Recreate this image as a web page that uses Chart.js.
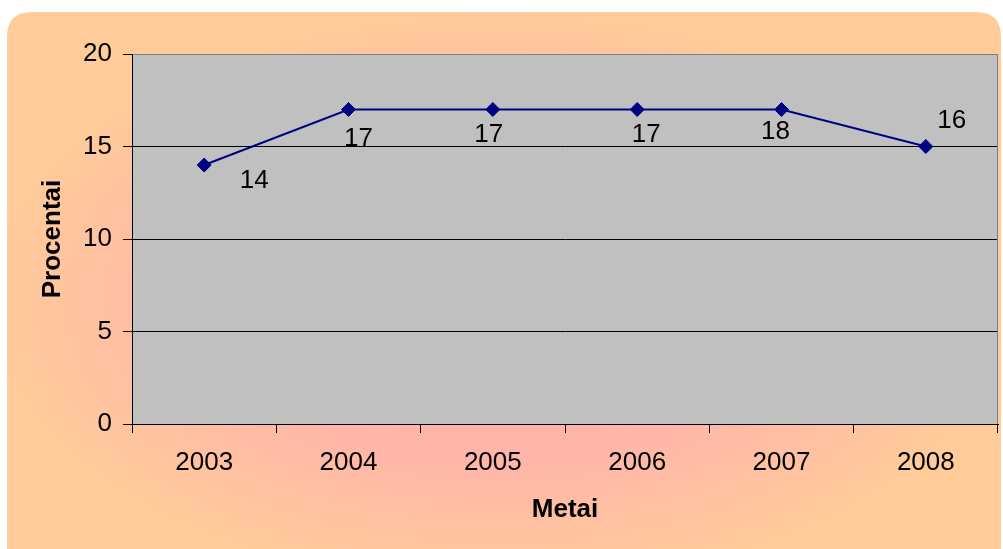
<!DOCTYPE html>
<html>
<head>
<meta charset="utf-8">
<script src="https://cdn.jsdelivr.net/npm/chart.js@4/dist/chart.umd.min.js"></script>
<style>
  html, body { margin: 0; padding: 0; background: #ffffff; }
  #wrap { width: 1003px; height: 549px; position: relative; }
</style>
</head>
<body>
<div id="wrap"><canvas id="c" width="1003" height="549"></canvas></div>
<script>
const years = ['2003', '2004', '2005', '2006', '2007', '2008'];
const values = [14, 17, 17, 17, 17, 15];
const valueLabels = ['14', '17', '17', '17', '18', '16'];
const yTicks = [0, 5, 10, 15, 20];
const xTitle = 'Metai';
const yTitle = 'Procentai';

const FONT = '"Liberation Sans", Arial, sans-serif';
const FS = 26;

const backgroundPlugin = {
  id: 'bg',
  beforeDraw(chart) {
    const ctx = chart.ctx;
    const x = 7, y = 12, w = 994, h = 560, r = 25;
    ctx.save();
    ctx.translate(500, 300);
    ctx.scale(1, 0.56);
    const g = ctx.createRadialGradient(0, 0, 0, 0, 0, 520);
    g.addColorStop(0, '#ffa8b0');
    g.addColorStop(0.55, '#ffb6a9');
    g.addColorStop(1, '#ffcc99');
    ctx.fillStyle = g;
    ctx.beginPath();
    const tx = (px) => px - 500, ty = (py) => (py - 300) / 0.56;
    ctx.moveTo(tx(x + r), ty(y));
    ctx.lineTo(tx(x + w - r), ty(y));
    ctx.quadraticCurveTo(tx(x + w), ty(y), tx(x + w), ty(y + r));
    ctx.lineTo(tx(x + w), ty(y + h - r));
    ctx.quadraticCurveTo(tx(x + w), ty(y + h), tx(x + w - r), ty(y + h));
    ctx.lineTo(tx(x + r), ty(y + h));
    ctx.quadraticCurveTo(tx(x), ty(y + h), tx(x), ty(y + h - r));
    ctx.lineTo(tx(x), ty(y + r));
    ctx.quadraticCurveTo(tx(x), ty(y), tx(x + r), ty(y));
    ctx.closePath();
    ctx.fill();
    ctx.restore();
    const a = chart.chartArea;
    ctx.save();
    ctx.fillStyle = '#c0c0c0';
    ctx.fillRect(a.left, a.top, a.right - a.left, a.bottom - a.top);
    ctx.restore();
  },
  afterDraw(chart) {
    const a = chart.chartArea;
    const ctx = chart.ctx;
    ctx.save();
    ctx.strokeStyle = '#808080';
    ctx.lineWidth = 1;
    ctx.beginPath();
    ctx.moveTo(a.right - 0.5, a.top);
    ctx.lineTo(a.right - 0.5, a.bottom);
    ctx.stroke();
    ctx.restore();
  }
};

const labelPlugin = {
  id: 'valueLabels',
  afterDatasetsDraw(chart, args, opts) {
    const ctx = chart.ctx;
    const meta = chart.getDatasetMeta(0);
    ctx.save();
    ctx.font = FS + 'px ' + FONT;
    ctx.fillStyle = '#000000';
    ctx.textAlign = 'center';
    ctx.textBaseline = 'middle';
    meta.data.forEach((pt, i) => {
      const off = opts.offsets[i];
      ctx.fillText(valueLabels[i], pt.x + off[0], pt.y + off[1]);
    });
    ctx.restore();
  }
};

new Chart(document.getElementById('c'), {
  type: 'line',
  data: {
    labels: years,
    datasets: [{
      data: values,
      borderColor: '#000080',
      borderWidth: 2,
      backgroundColor: '#000080',
      pointStyle: 'rectRot',
      pointRadius: 7,
      pointHoverRadius: 7,
      pointBorderWidth: 1,
      pointBackgroundColor: '#000080',
      pointBorderColor: '#000080',
      tension: 0,
      fill: false
    }]
  },
  plugins: [backgroundPlugin, labelPlugin],
  options: {
    responsive: false,
    animation: false,
    devicePixelRatio: 1,
    layout: { autoPadding: false, padding: { top: 54, right: 5, left: 0, bottom: 0 } },
    plugins: {
      legend: { display: false },
      tooltip: { enabled: false },
      valueLabels: {
        offsets: [[50, 16], [10, 29], [-4, 25], [9, 25], [-6, 22], [26, -26]]
      }
    },
    scales: {
      x: {
        type: 'category',
        offset: true,
        afterFit(scale) { scale.height = 125; },
        grid: {
          offset: true,
          drawOnChartArea: false,
          drawTicks: true,
          tickLength: 9,
          tickColor: '#000000',
          tickWidth: 1
        },
        border: { display: true, color: '#000000', width: 1 },
        ticks: {
          color: '#000000',
          font: { family: FONT, size: FS },
          padding: 14,
          maxRotation: 0,
          autoSkip: false
        },
        title: {
          display: true,
          text: xTitle,
          color: '#000000',
          font: { family: FONT, size: FS, weight: 'bold' },
          padding: { top: 0, bottom: 24 }
        }
      },
      y: {
        min: 0,
        max: 20,
        afterFit(scale) { scale.width = 132; },
        afterBuildTicks(scale) { scale.ticks = yTicks.map(v => ({ value: v })); },
        grid: {
          color: (c) => (c.tick && c.tick.value === 20) ? '#808080' : '#000000',
          lineWidth: 1,
          drawTicks: true,
          tickLength: 9,
          tickColor: '#000000'
        },
        border: { display: true, color: '#000000', width: 1 },
        ticks: {
          color: '#000000',
          font: { family: FONT, size: FS },
          padding: 11
        },
        title: {
          display: true,
          text: yTitle,
          color: '#000000',
          font: { family: FONT, size: FS, weight: 'bold' },
          padding: { top: 37, bottom: 0 }
        }
      }
    }
  }
});
</script>
</body>
</html>
